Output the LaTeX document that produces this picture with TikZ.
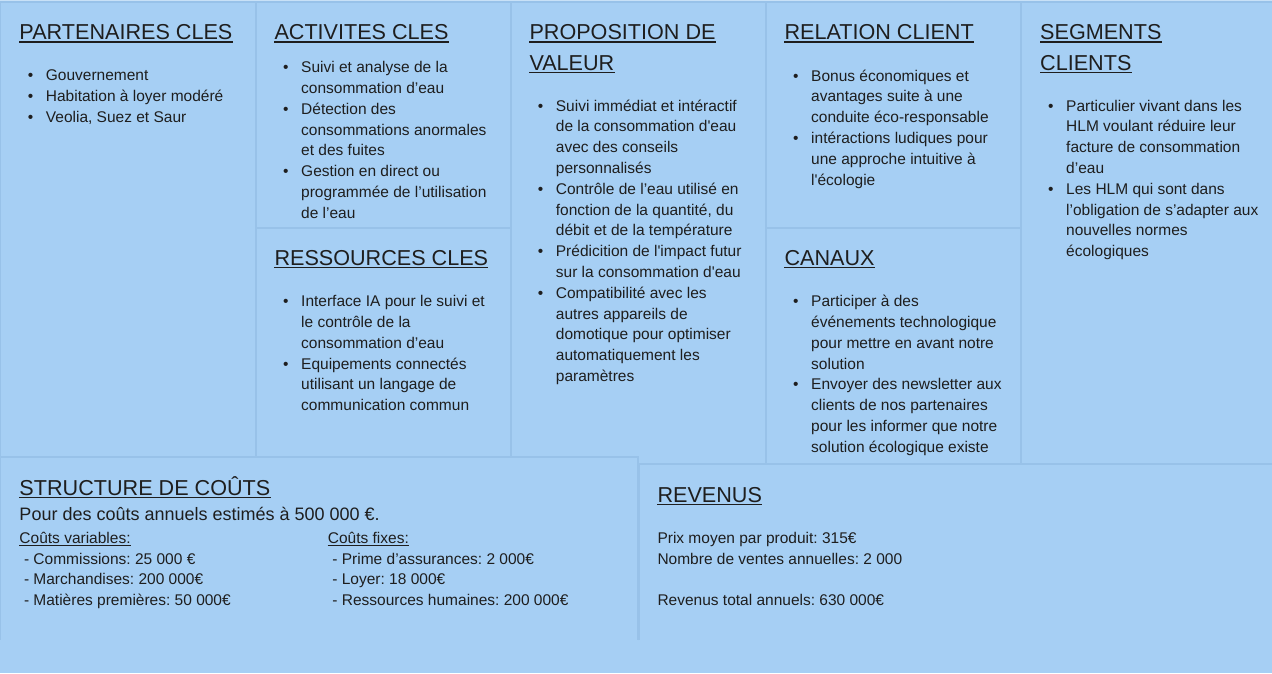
\documentclass[tikz,border=0pt]{standalone}
\usepackage{fontspec}
\setmainfont{Liberation Sans}
\frenchspacing
\definecolor{cellfill}{HTML}{A6CFF4}
\definecolor{cellline}{HTML}{98C2E9}
\definecolor{edgecol}{HTML}{C8E1F7}
\definecolor{ink}{HTML}{1E1E1E}
\newcommand{\hdfont}{\fontsize{21.6}{30.5}\selectfont}
\newcommand{\bdfont}{\fontsize{15.5}{20.8}\selectfont}
\newcommand{\bl}{\makebox[18pt][l]{\textbullet}}
\newcommand{\cl}{\hspace*{18pt}}
\newcommand{\ulnode}[2][1.4pt]{\draw[draw=ink,line width=#1] ([yshift=-2.6pt]#2.base west) -- ([yshift=-2.6pt]#2.base east);}
\begin{document}
\begin{tikzpicture}[x=1pt,y=-1pt,
  cell/.style={fill=cellfill,draw=cellline,line width=1.1pt},
  head/.style={anchor=base west,inner sep=0pt,text=ink,font=\hdfont},
  body/.style={anchor=base west,inner sep=0pt,text=ink,font=\bdfont}]
\useasboundingbox (0,0) rectangle (1272,673);
\fill[cellfill] (0,0) rectangle (1272,673);
\fill[edgecol] (0,0) rectangle (1272,2);
\fill[edgecol] (0,0) rectangle (2,640);
% top row cells
\draw[cell] (0,2) rectangle (256,465);
\draw[cell] (256,2) rectangle (511,228);
\draw[cell] (256,228) rectangle (511,465);
\draw[cell] (511,2) rectangle (766,465);
\draw[cell] (766,2) rectangle (1021,228);
\draw[cell] (766,228) rectangle (1021,465);
\draw[cell] (1021,2) rectangle (1273,465);
% bottom cells (no bottom edge)
\fill[cellfill] (0,457) rectangle (638,640);
\draw[cell,fill=none] (0,640) -- (0,457) -- (638,457) -- (638,640);
\fill[cellfill] (639,464) rectangle (1273,640);
\draw[cell,fill=none] (639,640) -- (639,464) -- (1273,464);

% headings
\node[head] (hpart) at (19.3,39.5) {PARTENAIRES CLES};
\node[head] (hact) at (274.3,39.5) {ACTIVITES CLES};
\node[head] (hprop1) at (529.3,39.5) {PROPOSITION DE};
\node[head] (hprop2) at (529.3,70) {VALEUR};
\node[head] (hrel) at (784.3,39.5) {RELATION CLIENT};
\node[head] (hseg1) at (1040,39.5) {SEGMENTS};
\node[head] (hseg2) at (1040,70) {CLIENTS};
\node[head] (hres) at (274.3,265) {RESSOURCES CLES};
\node[head] (hcan) at (784.3,265) {CANAUX};
\node[head] (hcout) at (19.3,495) {STRUCTURE DE COÛTS};
\node[head] (hrev) at (657.3,502) {REVENUS};
\foreach \n in {hpart,hact,hprop1,hprop2,hrel,hseg1,hseg2,hres,hcan,hcout,hrev} {\ulnode{\n}}

% bodies
\node[body] (bpart) at (27.7,80.7) {\begin{tabular}[t]{@{}l@{}}
\bl Gouvernement\\
\bl Habitation à loyer modéré\\
\bl Veolia, Suez et Saur
\end{tabular}};

\node[body] (bact) at (283,72.7) {\begin{tabular}[t]{@{}l@{}}
\bl Suivi et analyse de la\\
\cl consommation d’eau\\
\bl Détection des\\
\cl consommations anormales\\
\cl et des fuites\\
\bl Gestion en direct ou\\
\cl programmée de l’utilisation\\
\cl de l’eau
\end{tabular}};

\node[body] (bres) at (283,306.7) {\begin{tabular}[t]{@{}l@{}}
\bl Interface IA pour le suivi et\\
\cl le contrôle de la\\
\cl consommation d’eau\\
\bl Equipements connectés\\
\cl utilisant un langage de\\
\cl communication commun
\end{tabular}};

\node[body] (bprop) at (537.7,111) {\begin{tabular}[t]{@{}l@{}}
\bl Suivi immédiat et intéractif\\
\cl de la consommation d\textquotesingle eau\\
\cl avec des conseils\\
\cl personnalisés\\
\bl Contrôle de l’eau utilisé en\\
\cl fonction de la quantité, du\\
\cl débit et de la température\\
\bl Prédicition de l\textquotesingle impact futur\\
\cl sur la consommation d\textquotesingle eau\\
\bl Compatibilité avec les\\
\cl autres appareils de\\
\cl domotique pour optimiser\\
\cl automatiquement les\\
\cl paramètres
\end{tabular}};

\node[body] (brel) at (793,81) {\begin{tabular}[t]{@{}l@{}}
\bl Bonus économiques et\\
\cl avantages suite à une\\
\cl conduite éco-responsable\\
\bl intéractions ludiques pour\\
\cl une approche intuitive à\\
\cl l\textquotesingle écologie
\end{tabular}};

\node[body] (bcan) at (793,306.7) {\begin{tabular}[t]{@{}l@{}}
\bl Participer à des\\
\cl événements technologique\\
\cl pour mettre en avant notre\\
\cl solution\\
\bl Envoyer des newsletter aux\\
\cl clients de nos partenaires\\
\cl pour les informer que notre\\
\cl solution écologique existe
\end{tabular}};

\node[body] (bseg) at (1048,111) {\begin{tabular}[t]{@{}l@{}}
\bl Particulier vivant dans les\\
\cl HLM voulant réduire leur\\
\cl facture de consommation\\
\cl d’eau\\
\bl Les HLM qui sont dans\\
\cl l’obligation de s’adapter aux\\
\cl nouvelles normes\\
\cl écologiques
\end{tabular}};

% costs
\node[body,font=\fontsize{18}{22}\selectfont] (ctot) at (19.3,520) {Pour des coûts annuels estimés à 500 000 €.};
\node[body] (cvarh) at (19.3,543.3) {Coûts variables:};
\node[body] (cvar) at (23.8,564) {\begin{tabular}[t]{@{}l@{}}
- Commissions: 25 000 €\\
- Marchandises: 200 000€\\
- Matières premières: 50 000€
\end{tabular}};
\node[body] (cfixh) at (327.7,543.3) {Coûts fixes:};
\node[body] (cfix) at (332.2,564) {\begin{tabular}[t]{@{}l@{}}
- Prime d’assurances: 2 000€\\
- Loyer: 18 000€\\
- Ressources humaines: 200 000€
\end{tabular}};
\ulnode[0.9pt]{cvarh}
\ulnode[0.9pt]{cfixh}

% revenues
\node[body] (rev) at (657.3,543.3) {\begin{tabular}[t]{@{}l@{}}
Prix moyen par produit: 315€\\
Nombre de ventes annuelles: 2 000\\
\mbox{}\\
Revenus total annuels: 630 000€
\end{tabular}};
\end{tikzpicture}
\end{document}
